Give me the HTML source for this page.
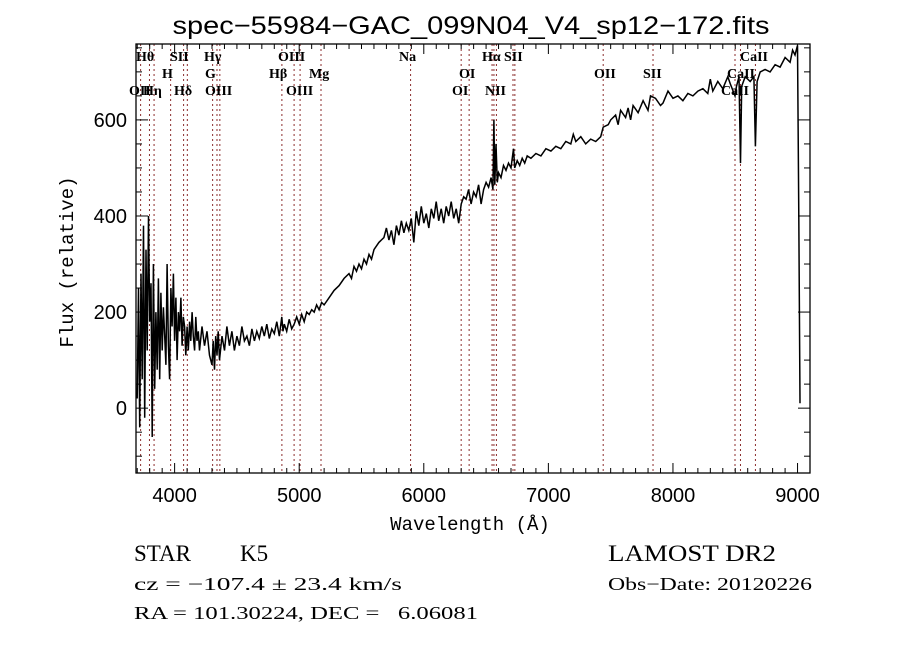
<!DOCTYPE html>
<html><head><meta charset="utf-8">
<style>
html,body{margin:0;padding:0;background:#fff;}
svg{display:block;}
.lbl{font-family:"Liberation Serif",serif;font-size:14px;fill:#000;font-weight:600;}
.tick{font-family:"Liberation Sans",sans-serif;font-size:20px;fill:#000;}
.info{font-family:"Liberation Serif",serif;fill:#000;}
</style></head>
<body>
<svg id="chart" width="900" height="649" viewBox="0 0 900 649" xmlns="http://www.w3.org/2000/svg">
<rect width="900" height="649" fill="#fff"/>
<text x="471" y="34" text-anchor="middle" font-family="Liberation Sans, sans-serif" font-size="25" textLength="597" lengthAdjust="spacingAndGlyphs">spec−55984−GAC_099N04_V4_sp12−172.fits</text>
<defs><clipPath id="plotclip"><rect x="136" y="44" width="674" height="429"/></clipPath></defs>
<g id="lines"></g>
<g id="labels"></g>
<g clip-path="url(#plotclip)"><path id="spec" fill="none" stroke="#000" stroke-width="1.5"/></g>
<rect x="136" y="44" width="674" height="429" fill="none" stroke="#000" stroke-width="1.3"/>
<g id="ticks"></g>
<text x="470" y="530" text-anchor="middle" font-family="Liberation Mono, monospace" font-size="19">Wavelength (Å)</text>
<text transform="translate(73,262) rotate(-90)" text-anchor="middle" font-family="Liberation Mono, monospace" font-size="19">Flux (relative)</text>
<text class="info" x="134" y="561" font-size="23">STAR</text>
<text class="info" x="240" y="561" font-size="23">K5</text>
<text class="info" x="608" y="561" font-size="23" textLength="168" lengthAdjust="spacingAndGlyphs">LAMOST DR2</text>
<text class="info" x="134" y="590" font-size="18" textLength="268" lengthAdjust="spacingAndGlyphs">cz = −107.4 ± 23.4 km/s</text>
<text class="info" x="608" y="590" font-size="18" textLength="204" lengthAdjust="spacingAndGlyphs">Obs−Date: 20120226</text>
<text class="info" x="134" y="619" font-size="18" textLength="344" lengthAdjust="spacingAndGlyphs" xml:space="preserve">RA = 101.30224, DEC =   6.06081</text>
</svg>
<script>
const xTicks=[4000,5000,6000,7000,8000,9000];
const yTicks=[0,200,400,600];
const lineWl=[3727,3798,3835,3968,4072,4102,4305,4340,4363,4861,4959,5007,5175,5894,6300,6364,6548,6563,6583,6716,6731,7440,7840,8498,8542,8662];
const labelText=["OII","Hθ","Hη","H","SII","Hδ","G","Hγ","OIII","Hβ","OIII","OIII","Mg","Na","OI","OI","Hα","NII","SII","OII","SII","CaII","CaII","CaII"];
const labelX=[129,136,143,162,170,174,205,204,205,269,278,286,309,399,452,459,482,485,504,594,643,721,727,740];
const labelRow=[3,1,3,2,1,3,2,1,3,2,1,3,2,1,3,2,1,3,1,2,2,3,2,1];
const wl=[3700,3710,3720,3730,3740,3750,3760,3770,3780,3790,3800,3810,3820,3830,3840,3850,3860,3870,3880,3890,3900,3910,3920,3930,3940,3950,3960,3970,3980,3990,4000,4010,4020,4030,4040,4050,4060,4070,4080,4090,4100,4110,4120,4130,4140,4150,4160,4170,4180,4190,4200,4220,4240,4260,4280,4300,4310,4320,4330,4340,4350,4360,4380,4400,4420,4440,4460,4480,4500,4520,4540,4560,4580,4600,4620,4640,4660,4680,4700,4720,4740,4760,4780,4800,4820,4840,4860,4870,4880,4900,4920,4940,4960,4980,5000,5020,5040,5060,5080,5100,5120,5140,5160,5180,5200,5240,5280,5320,5360,5400,5420,5440,5460,5480,5500,5520,5540,5560,5580,5600,5640,5680,5700,5720,5740,5760,5780,5800,5820,5840,5860,5880,5900,5920,5940,5960,5980,6000,6020,6040,6060,6080,6100,6120,6140,6160,6180,6200,6220,6240,6260,6280,6300,6320,6340,6360,6380,6400,6420,6440,6460,6480,6500,6520,6540,6555,6563,6570,6580,6590,6600,6620,6640,6660,6680,6700,6720,6730,6750,6770,6790,6810,6830,6860,6900,6940,6980,7020,7060,7100,7140,7180,7200,7220,7260,7300,7340,7380,7420,7440,7480,7500,7540,7560,7580,7620,7640,7660,7680,7720,7760,7800,7820,7860,7900,7920,7960,8000,8040,8080,8120,8160,8200,8240,8280,8300,8320,8360,8400,8440,8460,8498,8510,8530,8542,8552,8580,8620,8650,8662,8675,8700,8740,8780,8820,8860,8900,8940,8960,8980,9000,9010,9020];
const flux=[20,250,-40,280,60,380,-20,330,120,400,180,260,-60,300,40,200,80,270,60,240,120,210,150,90,300,130,60,250,170,280,140,230,100,200,160,230,130,190,170,110,170,120,180,140,200,150,120,190,140,160,120,170,130,160,110,90,140,80,150,110,160,100,150,120,170,130,160,120,150,130,170,140,150,130,165,140,160,145,170,150,175,145,165,155,180,150,190,160,175,160,185,165,175,190,175,195,180,200,195,205,200,215,205,220,215,230,245,255,270,280,270,295,285,300,290,310,300,320,310,330,345,355,375,350,370,340,380,360,390,365,385,370,395,345,410,380,420,385,405,375,415,395,430,390,415,385,420,400,430,395,415,385,425,440,435,455,425,450,440,465,425,455,470,460,480,455,600,465,550,470,490,480,505,495,510,500,540,500,515,505,520,510,525,520,530,525,540,535,545,540,555,550,570,555,565,550,560,555,565,585,590,600,610,590,620,605,625,600,630,615,640,620,650,645,630,635,660,645,650,640,655,650,660,665,655,685,660,680,665,690,675,650,670,690,510,670,690,680,690,545,680,700,705,700,715,710,730,720,745,735,755,400,10];

const X0=136,X1=810,WMIN=3690,WMAX=9100;
const Y0=473,Y1=44,FMIN=-135,FMAX=758;
function xs(w){return X0+(w-WMIN)/(WMAX-WMIN)*(X1-X0);}
function ys(f){return Y0-(f-FMIN)/(FMAX-FMIN)*(Y0-Y1);}
const NS="http://www.w3.org/2000/svg";
function mk(tag,attrs,parent){const e=document.createElementNS(NS,tag);for(const k in attrs)e.setAttribute(k,attrs[k]);parent.appendChild(e);return e;}

const lg=document.getElementById('lines');
lineWl.forEach(w=>{
  const l=mk('line',{x1:xs(w),x2:xs(w),y1:Y1,y2:Y0,stroke:'#8b2d2d','stroke-width':1,'stroke-dasharray':'2,3'},lg);
  
  
});
const lb=document.getElementById('labels');
const rowY={1:61,2:78,3:95};
labelText.forEach((t,i)=>{
  const e=mk('text',{x:labelX[i],y:rowY[labelRow[i]],class:'lbl'},lb);
  e.textContent=t;
  
  
});

let d='';
wl.forEach((w,i)=>{d+=(i?'L':'M')+xs(w).toFixed(1)+','+ys(flux[i]).toFixed(1);});
document.getElementById('spec').setAttribute('d',d);

const tg=document.getElementById('ticks');
for(let w=3700;w<=9100;w+=100){
  const major=(w%1000===0);const len=major?10:5;
  mk('line',{x1:xs(w),x2:xs(w),y1:Y0,y2:Y0-len,stroke:'#000','stroke-width':1},tg);
  mk('line',{x1:xs(w),x2:xs(w),y1:Y1,y2:Y1+len,stroke:'#000','stroke-width':1},tg);
}
for(let f=-100;f<=750;f+=50){
  const major=(f%200===0);const len=major?12:6;
  mk('line',{x1:X0,x2:X0+len,y1:ys(f),y2:ys(f),stroke:'#000','stroke-width':1},tg);
  mk('line',{x1:X1,x2:X1-len,y1:ys(f),y2:ys(f),stroke:'#000','stroke-width':1},tg);
}
xTicks.forEach(w=>{
  const t=mk('text',{x:xs(w),y:502,'text-anchor':'middle',class:'tick'},tg);
  t.textContent=w;
  
  
});
yTicks.forEach(f=>{
  const t=mk('text',{x:127,y:ys(f)+7,'text-anchor':'end',class:'tick'},tg);
  t.textContent=f;
  
  
});
</script>
</body></html>
